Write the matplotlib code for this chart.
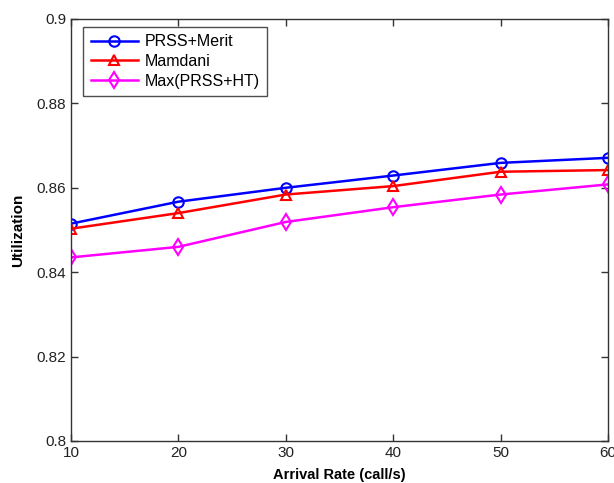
import matplotlib
matplotlib.use("Agg")
import matplotlib.pyplot as plt

x = [10, 20, 30, 40, 50, 60]
prss_merit = [0.8515, 0.8567, 0.8600, 0.8629, 0.8659, 0.8671]
mamdani = [0.8503, 0.8540, 0.8584, 0.8604, 0.8638, 0.8642]
max_prss_ht = [0.8435, 0.8460, 0.8519, 0.8554, 0.8584, 0.8608]
xticks = [10, 20, 30, 40, 50, 60]
yticks = [0.8, 0.82, 0.84, 0.86, 0.88, 0.9]
ytick_labels = ["0.8", "0.82", "0.84", "0.86", "0.88", "0.9"]

plt.rcParams['font.family'] = ['Liberation Sans', 'DejaVu Sans']

fig = plt.figure(figsize=(6.14, 4.83), dpi=100)
ax = fig.add_axes([0.1156, 0.087, 0.8746, 0.8737])

ax.plot(x, prss_merit, color='#0000ff', marker='o', markersize=7.5, mfc='none',
        mew=1.5, lw=1.8, label='PRSS+Merit')
ax.plot(x, mamdani, color='#ff0000', marker='^', markersize=7.5, mfc='none',
        mew=1.5, lw=1.8, label='Mamdani')
ax.plot(x, max_prss_ht, color='#ff00ff', marker='d', markersize=8, mfc='none',
        mew=1.5, lw=1.8, label='Max(PRSS+HT)')

ax.set_xlim(10, 60)
ax.set_ylim(0.8, 0.9)
ax.set_xticks(xticks)
ax.set_yticks(yticks)
ax.set_yticklabels(ytick_labels)
ax.tick_params(direction='in', top=True, right=True, labelsize=11, length=5,
               width=1, colors='#333333', labelcolor='#222222')
for s in ax.spines.values():
    s.set_linewidth(1)
    s.set_color('#333333')

ax.set_xlabel('Arrival Rate (call/s)', fontsize=10.5, fontweight='bold', labelpad=6)
ax.set_ylabel('Utilization', fontsize=11, fontweight='bold', labelpad=8)

leg = ax.legend(loc='upper left', bbox_to_anchor=(0.02, 0.985), fontsize=11.5,
                frameon=True, fancybox=False, edgecolor='#222222',
                handlelength=3.0, handletextpad=0.4, borderpad=0.45,
                labelspacing=0.3, borderaxespad=0.1)
leg.get_frame().set_linewidth(1)

fig.savefig('out.png', dpi=100)
